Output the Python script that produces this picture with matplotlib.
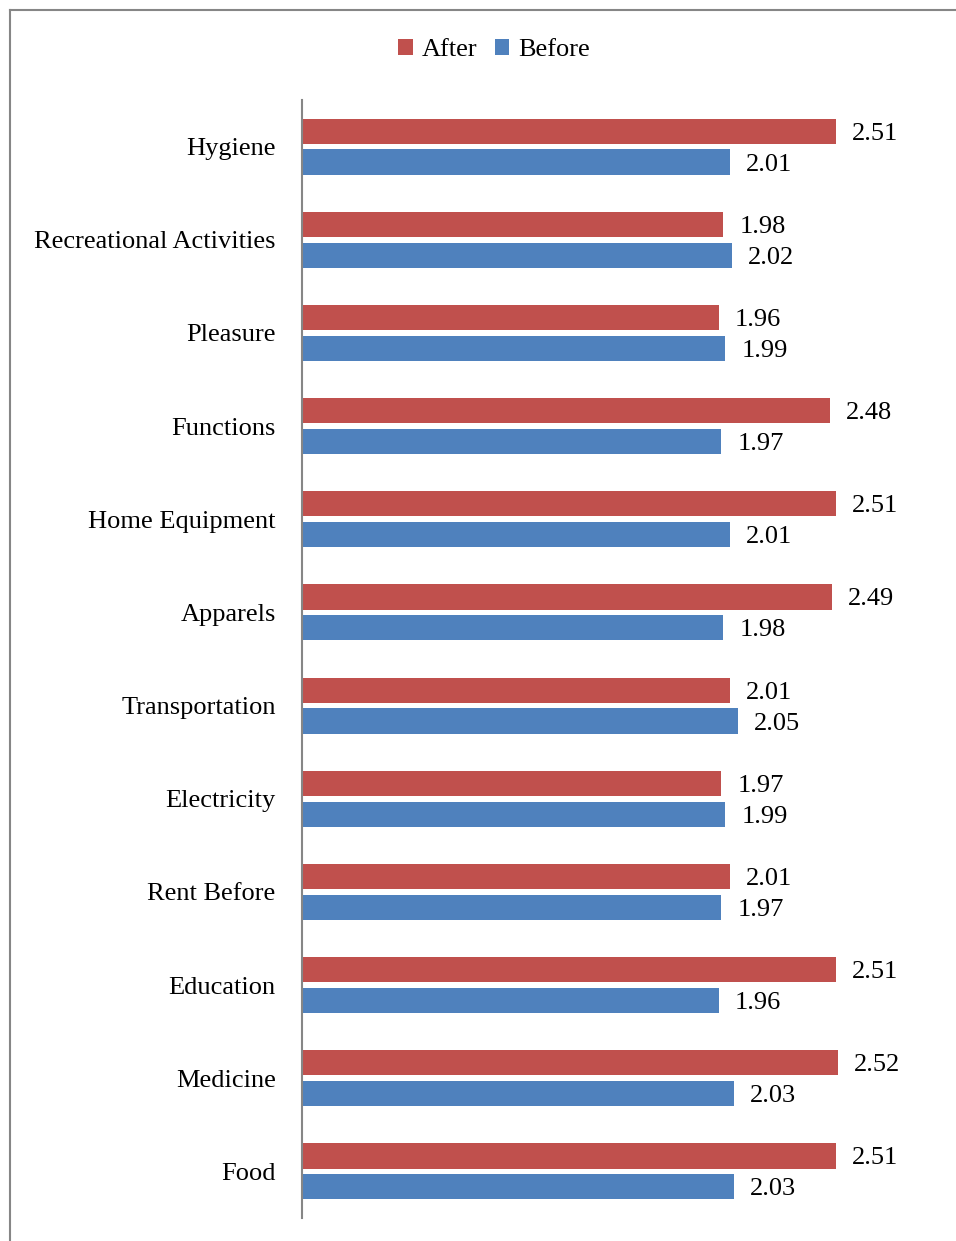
"""
Horizontal grouped bar chart: spending per category, after vs before.
"""

from matplotlib import pyplot
from matplotlib.lines import Line2D
import numpy

categories = ['Hygiene', 'Recreational Activities', 'Pleasure', 'Functions',
              'Home Equipment', 'Apparels', 'Transportation', 'Electricity',
              'Rent Before', 'Education', 'Medicine', 'Food']
after = [2.51, 1.98, 1.96, 2.48, 2.51, 2.49, 2.01, 1.97, 2.01, 2.51, 2.52, 2.51]
before = [2.01, 2.02, 1.99, 1.97, 2.01, 1.98, 2.05, 1.99, 1.97, 1.96, 2.03, 2.03]

RED = '#C0504D'
BLUE = '#4F81BD'
GRAY = '#868686'
W, H = 956, 1241
FS = 19

pyplot.rcParams['font.family'] = ['Liberation Serif', 'DejaVu Serif']

fig = pyplot.figure(figsize=(W / 100, H / 100), dpi=100)
ax = fig.add_axes([302 / W, 1 - 1218 / H, 3 * 212.8 / W, (1218 - 100) / H])

ind = numpy.arange(len(categories))
height = 0.27
offset = 0.166
ax.barh(ind - offset, after, height, color=RED, label='After')
ax.barh(ind + offset, before, height, color=BLUE, label='Before')

for i in ind:
    ax.text(after[i] + 0.075, i - offset, f'{after[i]:.2f}',
            va='center_baseline', ha='left', fontsize=FS)
    ax.text(before[i] + 0.075, i + offset, f'{before[i]:.2f}',
            va='center_baseline', ha='left', fontsize=FS)

ax.set_xlim(0, 3)
ax.set_ylim(len(categories) - 0.5, -0.5)
ax.set_yticks(ind)
ax.set_yticklabels(categories, fontsize=FS, va='center_baseline')
ax.tick_params(axis='y', length=0, pad=19)
ax.set_xticks([])
for side in ('top', 'right', 'bottom'):
    ax.spines[side].set_visible(False)
ax.spines['left'].set_color(GRAY)
ax.spines['left'].set_linewidth(1.5)

fig.legend(loc='center', bbox_to_anchor=(494 / W, 1 - 50 / H), ncol=2,
           frameon=False, fontsize=FS, handlelength=0.55, handleheight=0.55,
           handletextpad=0.35, columnspacing=0.65)

# outer chart frame (left and top edges only are visible)
fig.add_artist(Line2D([10 / W, 10 / W], [0, 1 - 10 / H], color=GRAY, lw=1.5))
fig.add_artist(Line2D([10 / W, 1], [1 - 10 / H, 1 - 10 / H], color=GRAY,
                      lw=1.5))

fig.savefig('out.png', dpi=100)
